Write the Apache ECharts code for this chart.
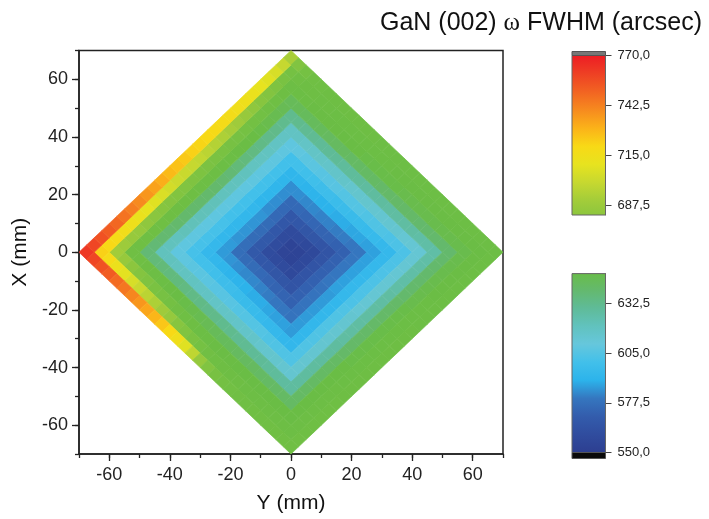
<!DOCTYPE html>
<html><head><meta charset="utf-8">
<script src="https://cdn.jsdelivr.net/npm/echarts@6/dist/echarts.min.js"></script>
<style>html,body{margin:0;padding:0;background:#fff}#c{width:709px;height:519px}</style>
</head><body><div id="c"></div>
<script>
// ---- Data: FWHM values (arcsec) read along diamond contour rings (|X|+|Y| = r) ----
var ringRadii = [2.5,7.5,12.5,17.5,22.5,27.5,32.5,37.5,42.5,47.5,52.5,57.5,62.5,67.5];
var cellStep = 5;

// upper-left quadrant (Y<0, X>0): from the -Y axis to the +X axis
var upperLeft = [
[555,554],
[560,560,559,559],
[568,568,568,567,567,567],
[577,577,576,576,576,575,575,575],
[586,586,585,585,585,585,584,584,584,584],
[594,594,593,593,593,593,593,592,592,592,592,592],
[601,601,601,601,601,600,600,600,600,600,600,600,600,600],
[608,608,608,608,608,608,608,608,608,608,608,608,608,608,608,608],
[620,620,620,621,621,621,621,621,620,620,620,620,619,619,619,618,618,618],
[638,638,639,639,640,640,640,640,640,640,639,638,637,636,635,634,633,633,632,632],
[660,659,659,658,658,657,657,656,656,655,655,655,654,653,652,651,650,649,648,647,646,645],
[690,688,686,685,683,681,679,678,676,675,674,672,671,670,669,667,666,665,663,662,660,659,657,655],
[722,720,718,716,714,712,710,708,706,704,702,701,700,699,697,695,693,691,689,686,683,680,677,673,669,665],
[762,758,755,752,749,746,743,740,737,734,731,728,726,724,722,721,720,719,718,717,715,714,712,710,708,705,700,692]
];
// lower-right quadrant (Y>0, X<0): from the -X axis to the +Y axis
var lowerRight = [
[554,554],
[558,558,558,558],
[565,565,565,565,565,565],
[572,572,572,572,572,572,572,572],
[579,579,579,579,579,580,580,580,580,580],
[586,586,586,586,586,586,587,587,587,587,587,587],
[593,593,593,593,593,593,593,594,594,594,594,594,594,594],
[604,604,604,604,604,604,604,604,603,603,603,603,603,603,603,603],
[614,614,614,614,614,614,614,614,614,613,613,613,613,613,613,613,613,613],
[628,628,628,628,628,628,628,627,627,627,627,627,627,627,626,626,626,626,626,626],
[642,642,642,642,642,642,642,641,641,641,641,641,641,641,641,640,640,640,640,640,640,640],
[650,650,650,650,650,650,650,650,649,649,649,649,649,649,649,649,648,648,648,648,648,648,648,648],
[655,655,655,655,655,655,655,654,654,654,654,654,654,653,653,653,653,653,653,652,652,652,652,652,652,652],
[660,660,659,659,658,658,658,657,657,657,657,656,656,656,656,656,656,655,655,655,655,655,655,655,655,655,655,655]
];
// lower-left quadrant (Y<0, X<0), cells between the axes: from -Y side towards -X side
var lowerLeft = [
[],
[559,559],
[567,567,566,566],
[576,576,575,574,573,573],
[585,584,583,583,582,581,580,580],
[593,592,591,591,590,589,589,588,587,587],
[600,600,599,598,598,597,596,596,595,594,594,593],
[608,607,607,607,606,606,606,605,605,605,605,604,604,604],
[620,619,619,619,618,618,617,617,617,616,616,616,615,615,615,614],
[637,637,636,636,635,634,634,633,633,632,632,631,631,630,630,629,629,628],
[658,656,655,653,652,650,649,648,647,646,645,644,644,643,643,643,642,642,642,642],
[686,682,678,674,670,667,664,661,658,656,654,653,652,651,651,650,650,650,650,650,650,650],
[718,713,709,705,701,697,693,689,685,680,675,670,665,661,658,657,656,656,655,655,655,655,655,655],
[758,755,752,748,745,741,737,733,729,725,720,715,708,698,685,675,668,664,662,661,660,660,660,660,660,660]
];
// upper-right quadrant (Y>0, X>0), cells between the axes: from +X side towards +Y side
var upperRight = [
[],
[559,558],
[567,566,566,565],
[575,574,574,573,573,572],
[584,583,583,582,582,581,581,580],
[592,591,591,590,590,589,589,588,588,587],
[600,599,599,598,598,597,597,596,596,595,595,594],
[608,607,607,606,606,606,605,605,605,604,604,604,603,603],
[618,617,617,617,616,616,616,615,615,615,614,614,614,614,613,613],
[632,631,631,630,630,630,629,629,629,628,628,628,627,627,627,627,626,626],
[645,644,644,644,643,643,643,642,642,642,642,641,641,641,641,641,640,640,640,640],
[654,653,652,652,651,651,650,650,650,649,649,649,649,649,648,648,648,648,648,648,648,648],
[660,657,656,655,655,654,654,654,653,653,653,653,653,652,652,652,652,652,652,652,652,652,652,652],
[675,665,660,658,657,657,656,656,656,656,656,655,655,655,655,655,655,655,655,655,655,655,655,655,655,655]
];

var axisMajor = [-60,-40,-20,0,20,40,60];
var upperBar = [682, 770];
var lowerBar = [550, 649];
var upperBarTicks = [687.5, 715, 742.5, 770];
var lowerBarTicks = [550, 577.5, 605, 632.5];
var paletteMin = 550, paletteMax = 770;
var palette = ['#2d3e90','#304c9e','#335cac','#3576bf','#2cb3eb','#42c0ea','#66c7dc','#61c2bd',
  '#5fbb97','#64b96c','#6abd45','#70bf44','#7ac242','#87c53f','#a2cc3a','#c6d830','#e7e31f',
  '#f8d916','#fbb219','#f68a1f','#f26322','#ee3f24','#ed1c24'];

// ---- build cells (diamond tiles in Y/X mm) ----
var cells = [];
function addCell(u, v, val) { cells.push([(u - v) / 2, (u + v) / 2, val]); }
ringRadii.forEach(function (r, k) {
  upperLeft[k].forEach(function (val, m) { addCell(-r + cellStep * m, r, val); });
  lowerRight[k].forEach(function (val, m) { addCell(-r + cellStep * m, -r, val); });
  lowerLeft[k].forEach(function (val, t) { addCell(-r, r - cellStep * (t + 1), val); });
  upperRight[k].forEach(function (val, t) { addCell(r, r - cellStep * (t + 1), val); });
});

var FONT = 'Liberation Sans, Arial, sans-serif';
var half = cellStep / 2;

function renderCell(params, api) {
  var Y = api.value(0), X = api.value(1);
  var pts = [api.coord([Y, X + half]), api.coord([Y + half, X]), api.coord([Y, X - half]), api.coord([Y - half, X])];
  var c = api.visual('color');
  return { type: 'polygon', shape: { points: pts }, style: { fill: c, stroke: c, lineWidth: 0.7 } };
}

function colorAt(v) { return echarts.color.lerp((v - paletteMin) / (paletteMax - paletteMin), palette); }
function barStops(lo, hi) {
  var n = palette.length - 1, stops = [{ offset: 0, color: colorAt(hi) }, { offset: 1, color: colorAt(lo) }];
  palette.forEach(function (c, i) {
    var v = paletteMin + i * (paletteMax - paletteMin) / n;
    if (v > lo && v < hi) stops.push({ offset: (hi - v) / (hi - lo), color: c });
  });
  stops.sort(function (a, b) { return a.offset - b.offset; });
  return stops;
}
function barRenderer(capColor, capAtTop, capSize) {
  return function (params, api) {
    var lo = api.value(0), hi = api.value(1);
    var p0 = api.coord([0, hi]), p1 = api.coord([1, lo]);
    var x = p0[0], y = p0[1], w = p1[0] - p0[0], h = p1[1] - p0[1];
    var cap = capAtTop ? { x: x, y: y - capSize, width: w, height: capSize } : { x: x, y: y + h, width: w, height: capSize };
    return { type: 'group', children: [
      { type: 'rect', shape: { x: x, y: y, width: w, height: h },
        style: { fill: new echarts.graphic.LinearGradient(0, 0, 0, 1, barStops(lo, hi)), stroke: '#666', lineWidth: 1 } },
      { type: 'rect', shape: cap, style: { fill: capColor, stroke: '#555', lineWidth: 1 } }
    ] };
  };
}
function commaFmt(v) { return Number(v).toFixed(1).replace('.', ','); }

var tickLine = { color: '#222', width: 1.3 };
var option = {
  animation: false,
  backgroundColor: '#fff',
  title: {
    text: 'GaN (002) {w|ω} FWHM (arcsec)', right: 2, top: 6,
    textStyle: { fontFamily: FONT, fontSize: 25, fontWeight: 'normal', color: '#111',
      rich: { w: { fontFamily: 'Liberation Serif', fontSize: 25, color: '#111' } } }
  },
  grid: [
    { left: 79, top: 50.5, width: 424, height: 408, show: true, borderColor: '#222', borderWidth: 1.5, backgroundColor: 'transparent' },
    { left: 572, top: 55.5, width: 33.5, height: 159.5 },
    { left: 572, top: 273.6, width: 33.5, height: 178.9 }
  ],
  xAxis: [
    { gridIndex: 0, type: 'value', min: -70, max: 70, interval: 10, position: 'bottom',
      axisLine: { onZero: false, lineStyle: { color: '#222', width: 1.5 } },
      axisTick: { length: 4, lineStyle: tickLine }, axisLabel: { show: false }, splitLine: { show: false } },
    { gridIndex: 0, type: 'value', min: -70, max: 70, position: 'bottom',
      axisLine: { show: false, onZero: false },
      axisTick: { customValues: axisMajor, length: 7, lineStyle: tickLine },
      axisLabel: { customValues: axisMajor, margin: 12, fontSize: 18, color: '#222', fontFamily: FONT },
      splitLine: { show: false },
      name: 'Y (mm)', nameLocation: 'middle', nameGap: 39,
      nameTextStyle: { fontSize: 21, fontFamily: FONT, color: '#111' } },
    { gridIndex: 1, type: 'value', min: 0, max: 1, show: false },
    { gridIndex: 2, type: 'value', min: 0, max: 1, show: false }
  ],
  yAxis: [
    { gridIndex: 0, type: 'value', min: -70, max: 70, interval: 10, position: 'left',
      axisLine: { onZero: false, lineStyle: { color: '#222', width: 1.5 } },
      axisTick: { length: 4, lineStyle: tickLine }, axisLabel: { show: false }, splitLine: { show: false } },
    { gridIndex: 0, type: 'value', min: -70, max: 70, position: 'left',
      axisLine: { show: false, onZero: false },
      axisTick: { customValues: axisMajor, length: 7, lineStyle: tickLine },
      axisLabel: { customValues: axisMajor, margin: 11, fontSize: 18, color: '#222', fontFamily: FONT },
      splitLine: { show: false },
      name: 'X (mm)', nameLocation: 'middle', nameGap: 45,
      nameTextStyle: { fontSize: 21, fontFamily: FONT, color: '#111' } },
    { gridIndex: 1, type: 'value', min: upperBar[0], max: upperBar[1], position: 'right',
      axisLine: { show: true, onZero: false, lineStyle: { color: '#666', width: 1 } },
      axisTick: { customValues: upperBarTicks, length: 6, lineStyle: { color: '#444', width: 1 } },
      axisLabel: { customValues: upperBarTicks, formatter: commaFmt, margin: 12, fontSize: 13, color: '#222', fontFamily: FONT },
      splitLine: { show: false } },
    { gridIndex: 2, type: 'value', min: lowerBar[0], max: lowerBar[1], position: 'right',
      axisLine: { show: true, onZero: false, lineStyle: { color: '#666', width: 1 } },
      axisTick: { customValues: lowerBarTicks, length: 6, lineStyle: { color: '#444', width: 1 } },
      axisLabel: { customValues: lowerBarTicks, formatter: commaFmt, margin: 12, fontSize: 13, color: '#222', fontFamily: FONT },
      splitLine: { show: false } }
  ],
  visualMap: { type: 'continuous', show: false, min: paletteMin, max: paletteMax, dimension: 2, seriesIndex: 0,
    inRange: { color: palette } },
  series: [
    { type: 'custom', xAxisIndex: 0, yAxisIndex: 0, renderItem: renderCell, encode: { x: 0, y: 1 }, data: cells, z: 1 },
    { type: 'custom', xAxisIndex: 2, yAxisIndex: 2, renderItem: barRenderer('#777', true, 4), data: [upperBar], silent: true },
    { type: 'custom', xAxisIndex: 3, yAxisIndex: 3, renderItem: barRenderer('#0a0a0a', false, 6), data: [lowerBar], silent: true }
  ]
};
var chart = echarts.init(document.getElementById('c'));
chart.setOption(option);
</script></body></html>
